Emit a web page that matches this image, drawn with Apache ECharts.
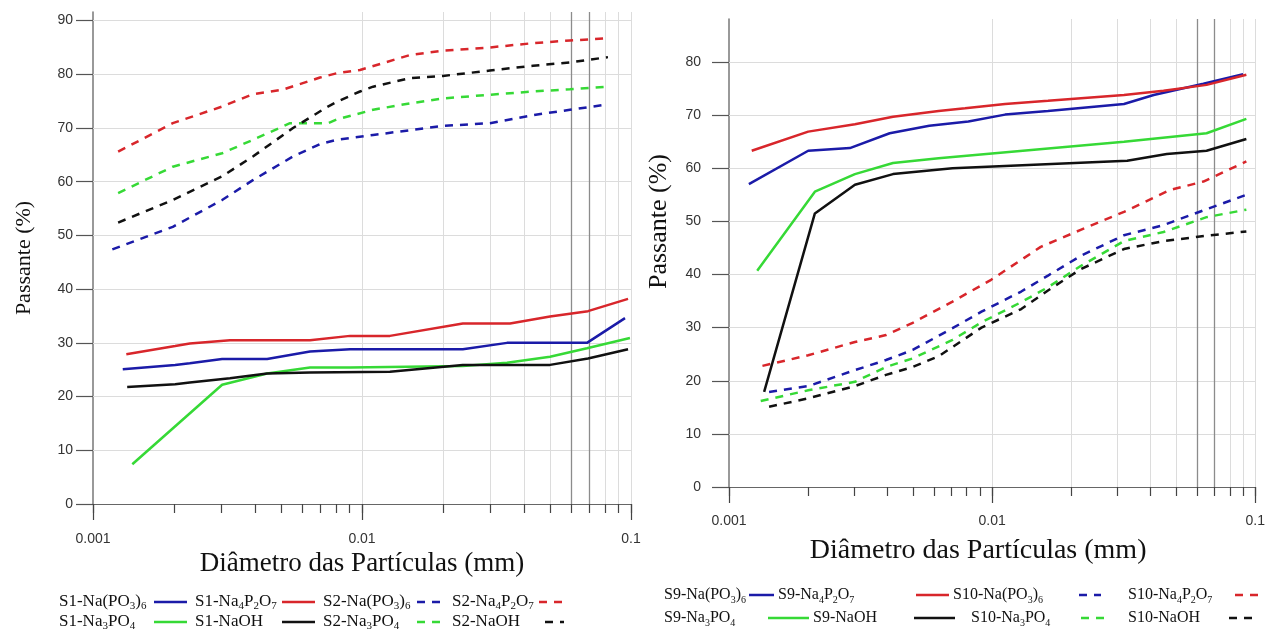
<!DOCTYPE html>
<html><head><meta charset="utf-8">
<script src="https://cdn.jsdelivr.net/npm/echarts@6/dist/echarts.min.js"></script>
<style>html,body{margin:0;padding:0;background:#fff}#c{width:1268px;height:630px}</style>
</head><body><div id="c"></div>
<script>
// ---------- DATA: [diameter (mm), passing (%)] ----------
const yTicks = [0, 10, 20, 30, 40, 50, 60, 70, 80, 90];
const yTicksRight = [0, 10, 20, 30, 40, 50, 60, 70, 80];
const xDecades = [0.001, 0.01, 0.1];
const xMinor = [0.002,0.003,0.004,0.005,0.006,0.007,0.008,0.009,0.02,0.03,0.04,0.05,0.06,0.07,0.08,0.09];
const xRefLines = [0.002, 0.06, 0.075];

// Left panel (S1 / S2)
const s1_NaPO3_6 = [[0.00129,25.1],[0.00202,25.9],[0.00229,26.2],[0.00302,27.0],[0.00444,27.0],[0.00641,28.4],[0.00903,28.8],[0.0237,28.8],[0.0346,30.0],[0.0686,30.0],[0.095,34.6]];
const s1_Na4P2O7 = [[0.00133,27.9],[0.00202,29.4],[0.00229,29.9],[0.00323,30.5],[0.00641,30.5],[0.00903,31.3],[0.0127,31.3],[0.0237,33.6],[0.0355,33.6],[0.05,34.9],[0.0692,35.9],[0.0975,38.2]];
const s1_Na3PO4 = [[0.0014,7.4],[0.00302,22.2],[0.00444,24.3],[0.00641,25.4],[0.00903,25.4],[0.0237,25.7],[0.0346,26.3],[0.05,27.4],[0.0686,29.0],[0.0991,30.9]];
const s1_NaOH = [[0.00134,21.8],[0.00202,22.3],[0.00229,22.6],[0.00323,23.4],[0.00444,24.3],[0.00641,24.5],[0.0127,24.6],[0.0237,25.9],[0.05,25.9],[0.0692,27.1],[0.0975,28.8]];
const s2_NaPO3_6 = [[0.00118,47.4],[0.00198,51.6],[0.00302,56.6],[0.00393,60.3],[0.00554,64.7],[0.00698,67.0],[0.00807,67.8],[0.011,68.7],[0.0151,69.6],[0.02,70.4],[0.0299,70.9],[0.0432,72.4],[0.0593,73.4],[0.0821,74.4]];
const s2_Na4P2O7 = [[0.00124,65.6],[0.00198,70.9],[0.00302,74.0],[0.00393,76.3],[0.00504,77.1],[0.00698,79.4],[0.00807,80.2],[0.00983,80.8],[0.0151,83.6],[0.02,84.4],[0.0299,85.0],[0.0432,85.8],[0.0593,86.3],[0.0821,86.7]];
const s2_Na3PO4 = [[0.00124,57.9],[0.00198,62.8],[0.00302,65.3],[0.00393,67.8],[0.0054,70.9],[0.00747,70.9],[0.00807,71.6],[0.011,73.4],[0.0151,74.6],[0.02,75.5],[0.0299,76.2],[0.0432,76.8],[0.0593,77.2],[0.0821,77.7]];
const s2_NaOH = [[0.00124,52.4],[0.00198,56.6],[0.00302,61.0],[0.00393,64.7],[0.00554,70.0],[0.00747,74.0],[0.00807,74.9],[0.00983,76.8],[0.011,77.7],[0.0151,79.3],[0.02,79.7],[0.0299,80.7],[0.0432,81.6],[0.0593,82.2],[0.0821,83.2]];

// Right panel (S9 / S10)
const s9_NaPO3_6 = [[0.00119,57.0],[0.002,63.3],[0.00288,63.8],[0.00408,66.6],[0.00577,68.0],[0.00812,68.8],[0.0112,70.1],[0.0163,70.8],[0.0317,72.1],[0.0411,73.8],[0.0635,75.9],[0.0899,77.7]];
const s9_Na4P2O7 = [[0.00122,63.3],[0.002,66.9],[0.00301,68.3],[0.0042,69.7],[0.00626,70.8],[0.00789,71.3],[0.0112,72.1],[0.0163,72.7],[0.0317,73.8],[0.0448,74.6],[0.0653,75.7],[0.0925,77.6]];
const s9_Na3PO4 = [[0.00128,40.7],[0.00212,55.6],[0.00301,58.9],[0.0042,61.0],[0.00626,61.9],[0.0317,65.0],[0.0653,66.6],[0.0925,69.3]];
const s9_NaOH = [[0.00136,17.9],[0.00212,51.5],[0.00301,56.9],[0.0042,58.9],[0.00707,60.0],[0.0326,61.4],[0.0461,62.7],[0.0653,63.3],[0.0925,65.5]];
const s10_NaPO3_6 = [[0.00142,17.9],[0.002,19.0],[0.00301,22.0],[0.00395,23.9],[0.00499,25.8],[0.00707,29.9],[0.00911,33.0],[0.0129,36.8],[0.0163,39.8],[0.0217,43.5],[0.0317,47.4],[0.0448,49.3],[0.0653,52.3],[0.0925,55.0]];
const s10_Na4P2O7 = [[0.00134,22.8],[0.002,24.8],[0.00301,27.3],[0.00395,28.6],[0.00499,30.9],[0.00707,34.9],[0.00991,39.0],[0.0153,45.2],[0.0217,48.4],[0.0317,51.8],[0.0474,55.9],[0.0635,57.5],[0.0925,61.3]];
const s10_Na3PO4 = [[0.00132,16.2],[0.002,18.2],[0.00301,19.8],[0.00395,22.6],[0.00499,24.2],[0.00707,27.7],[0.00911,31.0],[0.0129,34.8],[0.0163,37.6],[0.0217,41.6],[0.0317,46.3],[0.0448,48.0],[0.0653,50.8],[0.0925,52.2]];
const s10_NaOH = [[0.00142,15.1],[0.002,16.7],[0.00301,19.0],[0.00395,21.1],[0.00499,22.6],[0.00626,24.6],[0.00911,30.0],[0.0129,33.5],[0.0163,37.0],[0.0217,41.0],[0.0317,44.8],[0.0448,46.3],[0.0653,47.3],[0.0925,48.1]];

const seriesNames = {
  left: ['S1-Na(PO3)6','S1-Na4P2O7','S2-Na(PO3)6','S2-Na4P2O7','S1-Na3PO4','S1-NaOH','S2-Na3PO4','S2-NaOH'],
  right: ['S9-Na(PO3)6','S9-Na4P2O7','S10-Na(PO3)6','S10-Na4P2O7','S9-Na3PO4','S9-NaOH','S10-Na3PO4','S10-NaOH']
};
const seriesData = {
  left: [s1_NaPO3_6, s1_Na4P2O7, s2_NaPO3_6, s2_Na4P2O7, s1_Na3PO4, s1_NaOH, s2_Na3PO4, s2_NaOH],
  right: [s9_NaPO3_6, s9_Na4P2O7, s10_NaPO3_6, s10_Na4P2O7, s9_Na3PO4, s9_NaOH, s10_Na3PO4, s10_NaOH]
};
const xTitle = 'Diâmetro das Partículas (mm)';
const yTitle = 'Passante (%)';

// ---------- STYLE ----------
const COLORS = ['#1b1ba8','#d8262b','#1b1ba8','#d8262b','#36d936','#111111','#36d936','#111111'];
const DASHED = [false,false,true,true,false,false,true,true];
const DASH = [8,7];
const SERIF = 'Liberation Serif';
const SANS = 'Liberation Sans';

const chart = echarts.init(document.getElementById('c'), null, {renderer:'canvas'});

function chemRich(name){
  const i = name.indexOf('-');
  let out = '{n|' + name.slice(0, i + 1);
  let cur = 'n';
  for (const ch of name.slice(i + 1)) {
    const t = /\d/.test(ch) ? 's' : 'n';
    if (t !== cur) { out += '}{' + t + '|'; cur = t; }
    out += ch;
  }
  return out + '}';
}

const grids = [
  {left:93, top:12, width:538, height:492},
  {left:729, top:19, width:530, height:468}
];
const yMax = [91.6, 88.1];

const xAxes = [], yAxes = [], series = [], legends = [];
[0,1].forEach(g => {
  const side = g === 0 ? 'left' : 'right';
  const yt = g === 0 ? yTicks : yTicksRight;
  xAxes.push({
    type:'log', logBase:10, gridIndex:g, min:0.001, max:0.1, position:'bottom',
    name: xTitle, nameLocation:'middle', nameGap: g === 0 ? 44 : 50,
    nameTextStyle:{fontFamily:SERIF, fontSize: g === 0 ? 27 : 28, color:'#111', padding: g === 0 ? 0 : [0,28,0,0]},
    axisLine:{show:true, lineStyle:{color:'#666', width:1.2}},
    axisTick:{show:true, customValues: xDecades.concat(xMinor), length:9, lineStyle:{color:'#444', width:1.2}},
    axisLabel:{show:true, customValues: xDecades, margin: g === 0 ? 28 : 27, fontFamily:SANS, fontSize:14, color:'#333',
      formatter: v => String(+v.toPrecision(3))},
    splitLine:{show:false}, minorTick:{show:false}
  });
  xAxes.push({
    type:'log', logBase:10, gridIndex:g, min:0.001, max:0.1, position:'bottom', offset:0,
    axisLine:{show:false},
    axisTick:{show:true, customValues: xDecades, length:16, lineStyle:{color:'#444', width:1.2}},
    axisLabel:{show:false}, splitLine:{show:false}
  });
  yAxes.push({
    type:'value', gridIndex:g, min:0, max:yMax[g], interval:10, position:'left',
    name: yTitle, nameLocation:'middle', nameGap: g === 0 ? 58 : 57,
    nameTextStyle:{fontFamily:SERIF, fontSize: g === 0 ? 22 : 26, color:'#111', padding: g === 0 ? 0 : [0,0,0,63]},
    axisLine:{show:true, lineStyle:{color:'#777', width:1.5}},
    axisTick:{show:true, customValues: yt, length:17, lineStyle:{color:'#555', width:1.2}},
    axisLabel:{show:true, customValues: yt, margin: g === 0 ? 20 : 28, fontFamily:SANS, fontSize:14, color:'#333'},
    splitLine:{show:false}
  });
  // grid lines via markLine on a helper series
  const mlData = [];
  xMinor.concat([0.01, 0.1]).forEach(v => mlData.push({xAxis:v}));
  yt.forEach(v => { if (v > 0) mlData.push({yAxis:v}); });
  xRefLines.forEach(v => mlData.push({xAxis:v, lineStyle:{color:'#8c8c8c', width:1.3, type:'solid'}}));
  series.push({
    type:'line', name:'_grid' + g, xAxisIndex:g*2, yAxisIndex:g, data:[[0.001,0]], symbol:'none',
    lineStyle:{width:0, opacity:0}, silent:true, z:1,
    markLine:{silent:true, symbol:['none','none'], label:{show:false}, animation:false,
      lineStyle:{color:'#dcdcdc', width:1, type:'solid'}, emphasis:{disabled:true}, data: mlData}
  });
  seriesNames[side].forEach((nm, k) => {
    series.push({
      type:'line', name:nm, xAxisIndex:g*2, yAxisIndex:g, data: seriesData[side][k],
      symbol:'none', showSymbol:false, z:5, clip:true,
      itemStyle:{color:COLORS[k]},
      lineStyle:{color:COLORS[k], width:2.5, type: DASHED[k] ? DASH : 'solid', cap:'butt'}
    });
  });
});

// legend layout: [textLeft, centerY, iconLeft, iconWidth]
const legendLayout = {
  left: [[59,602,154,33],[195,602,282,33],[323,602,417,28],[452,602,539,25],
         [59,622,154,33],[195,622,282,33],[323,622,417,28],[452,622,545,19]],
  right: [[664,595,749,25],[778,595,916,33],[953,595,1079,22],[1128,595,1235,25],
          [664,618,768,41],[813,618,914,41],[971,618,1081,26],[1128,618,1229,27]]
};
['left','right'].forEach(side => {
  const fs = side === 'left' ? 17 : 16;
  seriesNames[side].forEach((nm, k) => {
    const [tl, cy, il, iw] = legendLayout[side][k];
    legends.push({
      show:true, selectedMode:false, padding:0, left:tl, top:cy - 10,
      itemWidth:iw, itemHeight:14, itemGap:0, align:'right', orient:'horizontal',
      data:[{name:nm,
        itemStyle:{color:'rgba(0,0,0,0)', borderColor:'rgba(0,0,0,0)', borderWidth:0, opacity:0},
        lineStyle:{width:2.5, type: DASHED[k] ? DASH : 'solid', color:COLORS[k], opacity:1}}],
      formatter: chemRich,
      textStyle:{width: il - 5 - tl, fontFamily:SERIF, fontSize:fs, color:'#111', lineHeight:20,
        rich:{
          n:{fontFamily:SERIF, fontSize:fs, lineHeight:20, align:'left', color:'#111'},
          s:{fontFamily:SERIF, fontSize:Math.round(fs*0.62), lineHeight:12, verticalAlign:'bottom', align:'left', color:'#111'}
        }}
    });
  });
});

chart.setOption({
  animation:false,
  backgroundColor:'#fff',
  grid: grids,
  xAxis: xAxes,
  yAxis: yAxes,
  legend: legends,
  series: series
});
</script></body></html>
